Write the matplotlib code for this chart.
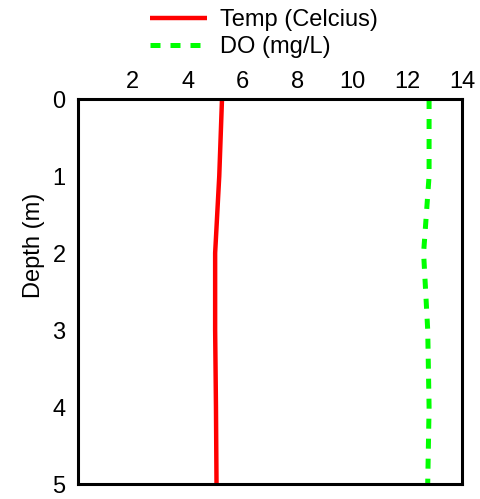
import matplotlib.pyplot as plt

plt.rcParams["font.family"] = ["Liberation Sans", "DejaVu Sans"]

# depth profile readings
depth = [0, 1, 2, 3, 4, 5]
temp_c = [5.25, 5.15, 5.0, 5.0, 5.03, 5.05]
do_mgl = [12.8, 12.8, 12.6, 12.75, 12.8, 12.75]
x_ticks = [2, 4, 6, 8, 10, 12, 14]
y_ticks = [0, 1, 2, 3, 4, 5]

fig = plt.figure(figsize=(4.8, 4.99), dpi=100)
ax = fig.add_axes([0.1625, 0.030, 0.80, 0.7716])

ax.plot(temp_c, depth, color="#ff0000", lw=3.2, label="Temp (Celcius)",
        solid_capstyle="butt")
ax.plot(do_mgl, depth, color="#00ff00", lw=3.6, linestyle=(0, (2, 2)),
        label="DO (mg/L)", dash_capstyle="butt")

ax.set_xlim(0, 14)
ax.set_ylim(5, 0)
ax.set_xticks(x_ticks)
ax.set_yticks(y_ticks)
ax.xaxis.tick_top()
ax.tick_params(axis="x", length=0, pad=4, labelsize=17)
ax.tick_params(axis="y", length=0, pad=9, labelsize=17)
for s in ax.spines.values():
    s.set_linewidth(2.2)

ax.set_ylabel("Depth (m)", fontsize=17)
ax.yaxis.set_label_coords(-0.087, 0.62)

fig.legend(loc="upper center", bbox_to_anchor=(0.55, 1.01), frameon=False,
           fontsize=17, handlelength=2.4, handletextpad=0.55,
           labelspacing=0.2, borderaxespad=0.2)

fig.savefig("out.png", dpi=100)
